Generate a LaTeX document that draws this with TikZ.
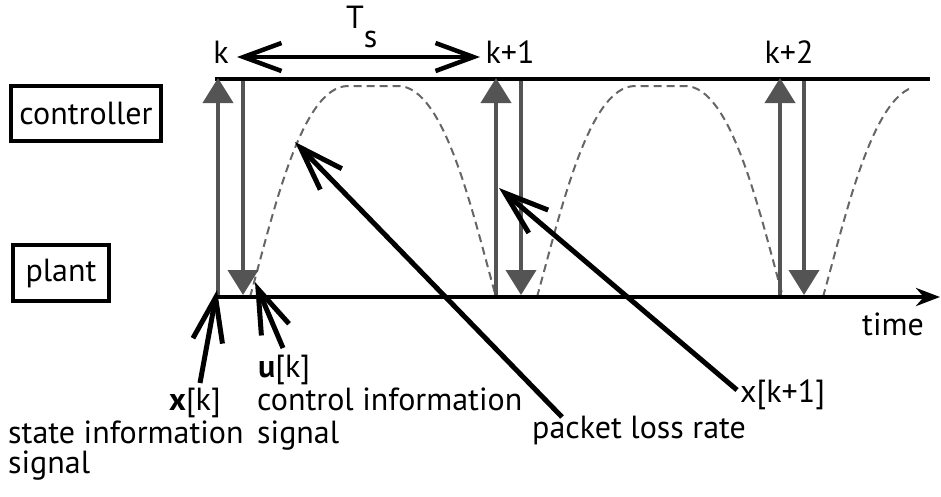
\documentclass[tikz,border=0pt]{standalone}
\usepackage{fontspec}
\setmainfont{PT Sans}
\usetikzlibrary{arrows.meta,positioning}
\tikzset{
  lbl/.style={font=\fontsize{32}{33}\selectfont, inner sep=0pt},
  box/.style={draw, line width=4pt, inner sep=0pt},
  sync/.style={draw=black!67, line width=4pt, -{Triangle[length=25pt,width=30pt]}},
  pointer/.style={line width=5pt, -{Straight Barb[length=44pt,width=30pt]}},
  period/.style={line width=4.5pt, {Straight Barb[length=38pt,width=28pt]}-{Straight Barb[length=38pt,width=28pt]}},
  loss/.style={draw=black!60, line width=2pt, dash pattern=on 8pt off 5pt},
}

\begin{document}
\begin{tikzpicture}[x=1pt,y=-1pt]
 \useasboundingbox (0,0) rectangle (941,496);
 % blocks
 \node[box,lbl,minimum width=150pt,minimum height=55pt] (ctrl) at (86,113.5) {controller};
 \node[box,lbl,minimum width=96pt,minimum height=56pt] (plant) at (61,273) {plant};
 % packet loss rate curve
 \begin{scope}
  \clip (0,0) rectangle (909,496);
  \foreach \c in {373,660,946}
   \draw[loss] ({\c-123},297) .. controls ({\c-100},215) and ({\c-72},86) .. ({\c-25},86)
     -- ({\c+25},86) .. controls ({\c+72},86) and ({\c+100},215) .. ({\c+123},297);
 \end{scope}
 % controller line and time axis
 \coordinate (cl) at (215,79);  \coordinate (cr) at (930,79);
 \coordinate (tl) at (216,297); \coordinate (tr) at (940,297);
 \draw[line width=4.5pt] (cl) -- (cr);
 \draw[line width=4.5pt,-{Stealth[length=24pt,width=18pt]}] (tl) -- (tr);
 \node[lbl,anchor=base west] (time) at (862,335) {time};
 % sampling instants
 \foreach \i/\u/\d/\lx/\lab in {0/218/243/221/k, 1/496/521/510/k+1, 2/780/804/789/k+2}{
  \coordinate (up\i) at (\u,295); \coordinate (upt\i) at (\u,78);
  \coordinate (dn\i) at (\d,81);  \coordinate (dnt\i) at (\d,295);
  \draw[sync] (up\i) -- (upt\i);
  \draw[sync] (dn\i) -- (dnt\i);
  \node[lbl,anchor=base] (k\i) at (\lx,63) {\lab};
 }
 % sampling period
 \coordinate (tsl) at (237,57); \coordinate (tsr) at (480,57);
 \draw[period] (tsl) -- (tsr);
 \node[lbl,anchor=base west] (ts) at (346,28) {T\raisebox{-19pt}{s}};
 % labels
 \node[lbl,anchor=base east] (xk) at (221,410) {\textbf{x}[k]};
 \node[lbl,font=\fontsize{32}{30}\selectfont,anchor=base west,align=left] (state) at (8,473) {state information\\signal};
 \node[lbl,anchor=base west] (uk) at (258,377) {\textbf{u}[k]};
 \node[lbl,anchor=base west,align=left] (cinfo) at (257,443) {control information\\signal};
 \node[lbl,anchor=base west] (rate) at (532,438) {packet loss rate};
 \node[lbl,anchor=base west] (xk1) at (740,402) {x[k+1]};
 % pointers
 \coordinate (xkt) at (200,383);  \coordinate (xkh) at (217,290);
 \coordinate (ukt) at (283,348);  \coordinate (ukh) at (255,282);
 \coordinate (ratet) at (562,417); \coordinate (rateh) at (295,142);
 \coordinate (xk1t) at (737,390); \coordinate (xk1h) at (499,188);
 \draw[pointer] (xkt) -- (xkh);
 \draw[pointer] (ukt) -- (ukh);
 \draw[pointer] (ratet) -- (rateh);
 \draw[pointer] (xk1t) -- (xk1h);
\end{tikzpicture}
\end{document}
